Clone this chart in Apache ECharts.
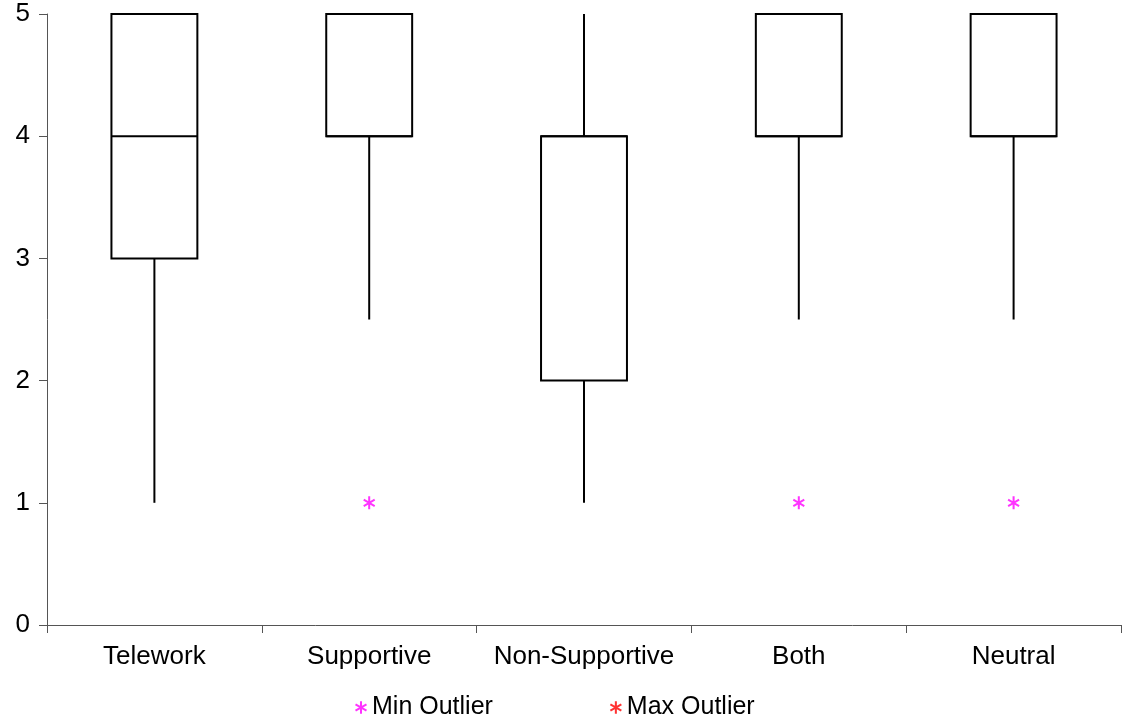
<!DOCTYPE html>
<html>
<head>
<meta charset="utf-8">
<script src="https://cdn.jsdelivr.net/npm/echarts@6/dist/echarts.min.js"></script>
<style>
html,body{margin:0;padding:0;background:#fff;}
#chart{width:1143px;height:723px;}
</style>
</head>
<body>
<div id="chart"></div>
<script>
// Data
const categories = ['Telework', 'Supportive', 'Non-Supportive', 'Both', 'Neutral'];
const whiskerMin = [1, 2.5, 1, 2.5, 2.5];
const q1 = [3, 4, 2, 4, 4];
const median = [4, 4, 4, 4, 4];
const q3 = [5, 5, 4, 5, 5];
const whiskerMax = [5, 5, 5, 5, 5];
const minOutliers = [['Supportive', 1], ['Both', 1], ['Neutral', 1]];
const maxOutliers = [];
const yTicks = [0, 1, 2, 3, 4, 5];

const asterisk = 'path://M-1.6,-10L1.6,-10L1.6,10L-1.6,10Z' +
  'M-9.46,-3.61L-7.86,-6.39L9.46,3.61L7.86,6.39Z' +
  'M-7.86,6.39L-9.46,3.61L7.86,-6.39L9.46,-3.61Z';

const boxData = categories.map((c, i) => [i, whiskerMin[i], q1[i], median[i], q3[i], whiskerMax[i]]);

const chart = echarts.init(document.getElementById('chart'));
const font = 'Liberation Sans, Arial, sans-serif';
chart.setOption({
  animation: false,
  backgroundColor: '#fff',
  grid: { left: 47, right: 22, top: 14, bottom: 98 },
  legend: {
    bottom: -2,
    left: 350,
    itemGap: 117,
    itemWidth: 12,
    itemHeight: 13,
    textStyle: { fontFamily: font, fontSize: 25, color: '#000', padding: [0, 0, 0, 0] },
    data: [
      { name: 'Min Outlier', icon: asterisk },
      { name: 'Max Outlier', icon: asterisk }
    ]
  },
  xAxis: {
    type: 'category',
    data: categories,
    boundaryGap: true,
    axisLine: { lineStyle: { color: '#555', width: 1 } },
    axisTick: { show: true, interval: 0, length: 8, lineStyle: { color: '#555' } },
    axisLabel: { interval: 0, margin: 19, fontFamily: font, fontSize: 26, color: '#000' },
    splitLine: { show: false }
  },
  yAxis: {
    type: 'value',
    min: 0, max: 5, interval: 1,
    axisLine: { show: true, lineStyle: { color: '#555', width: 1 } },
    axisTick: { show: true, length: 8, lineStyle: { color: '#555' } },
    axisLabel: { margin: 17, fontFamily: font, fontSize: 26, color: '#000',
      formatter: v => yTicks.includes(v) ? String(v) : '' },
    splitLine: { show: false }
  },
  series: [
    {
      type: 'custom',
      name: 'box',
      data: boxData,
      clip: false,
      renderItem: function (params, api) {
        const x = api.value(0);
        const w = api.size([1, 0])[0] * 0.4;
        const pMin = api.coord([x, api.value(1)]);
        const pQ1 = api.coord([x, api.value(2)]);
        const pMed = api.coord([x, api.value(3)]);
        const pQ3 = api.coord([x, api.value(4)]);
        const pMax = api.coord([x, api.value(5)]);
        const cx = pQ1[0];
        const style = { stroke: '#000', lineWidth: 2, fill: null };
        const children = [];
        if (api.value(1) < api.value(2)) {
          children.push({ type: 'line', shape: { x1: cx, y1: pQ1[1], x2: cx, y2: pMin[1] }, style: style });
        }
        if (api.value(5) > api.value(4)) {
          children.push({ type: 'line', shape: { x1: cx, y1: pQ3[1], x2: cx, y2: pMax[1] }, style: style });
        }
        children.push({ type: 'rect', shape: { x: cx - w / 2, y: pQ3[1], width: w, height: pQ1[1] - pQ3[1] },
          style: { stroke: '#000', lineWidth: 2, fill: '#fff' } });
        children.push({ type: 'line', shape: { x1: cx - w / 2, y1: pMed[1], x2: cx + w / 2, y2: pMed[1] }, style: style });
        return { type: 'group', children: children };
      },
      z: 2
    },
    {
      type: 'scatter',
      name: 'Min Outlier',
      data: minOutliers,
      symbol: asterisk,
      symbolSize: [12, 13],
      itemStyle: { color: '#ff00ff' },
      z: 3
    },
    {
      type: 'scatter',
      name: 'Max Outlier',
      data: maxOutliers,
      symbol: asterisk,
      symbolSize: [12, 13],
      itemStyle: { color: '#ff0000' },
      z: 3
    }
  ]
});
</script>
</body>
</html>
